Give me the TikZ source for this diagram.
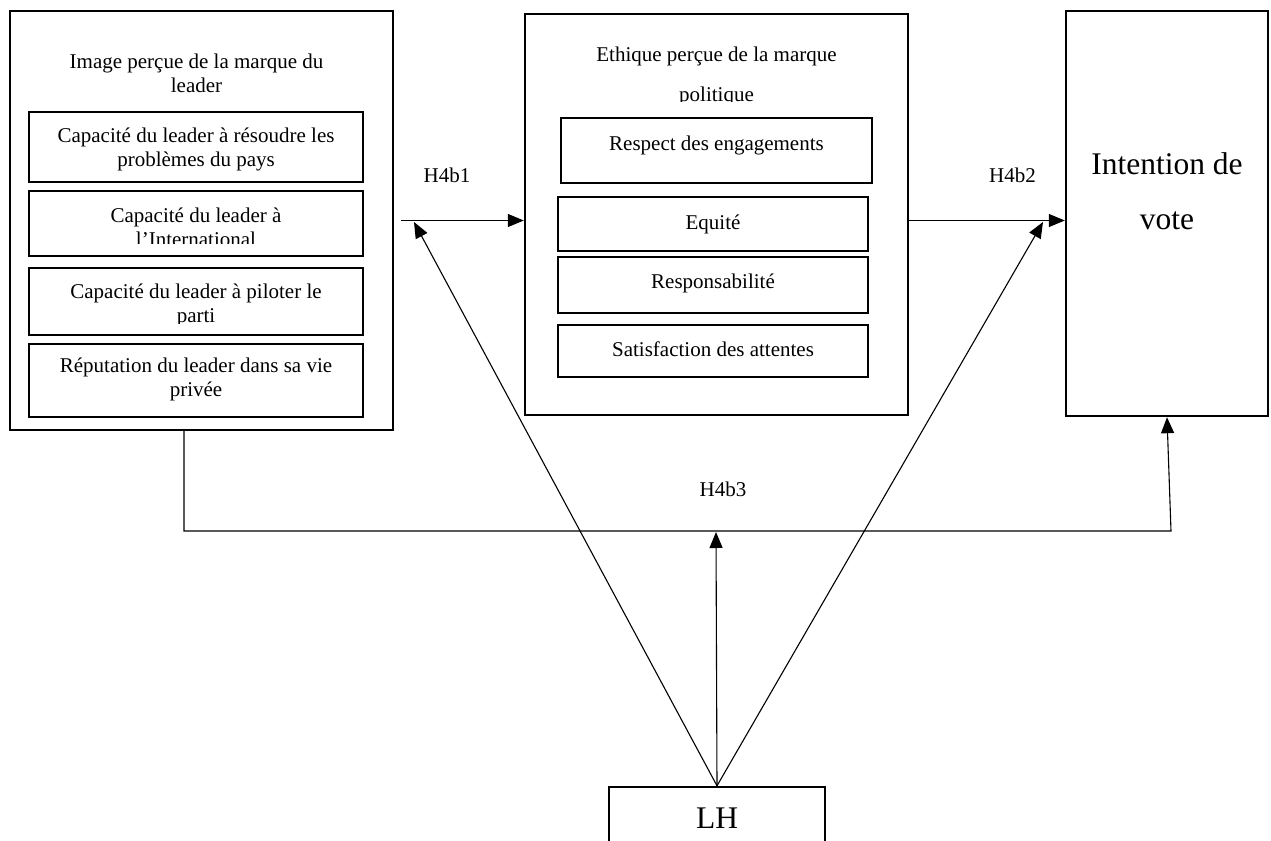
\documentclass[tikz,border=0pt]{standalone}
\usepackage{fontspec}
\setmainfont{Liberation Serif}
\usetikzlibrary{arrows.meta}
\def\textTitleA{Image perçue de la marque du\\leader}
\def\textTitleB{Ethique perçue de la marque\\politique}
\def\textItemA{Capacité du leader à résoudre les\\problèmes du pays}
\def\textItemB{Capacité du leader à\\l’International}
\def\textItemC{Capacité du leader à piloter le\\parti}
\def\textItemD{Réputation du leader dans sa vie\\privée}
\def\textItemE{Respect des engagements}
\def\textItemF{Equité}
\def\textItemG{Responsabilité}
\def\textItemH{Satisfaction des attentes}
\def\textVote{Intention de\\vote}
\tikzset{
  frame/.style={draw, line width=2.4bp, inner sep=0pt},
  boxtext/.style={inner sep=0pt, align=center, font=\fontsize{21bp}{24bp}\selectfont},
  hyptext/.style={inner sep=0pt, anchor=base, font=\fontsize{21bp}{24bp}\selectfont},
  link/.style={line width=1.1bp, -{Triangle[length=16bp,width=13bp]}}
}
\begin{document}
\begin{tikzpicture}[x=1bp,y=-1bp]
\useasboundingbox (0, 0) rectangle (1271, 841);

% main layer
\begin{scope}[shift={(0, 0)}]
% frame layer
\begin{scope}
\node[frame, minimum width=383bp, minimum height=419bp] (image) at (201.5, 220.5) {};
\node[frame, minimum width=334bp, minimum height=70bp] (imageA) at (196, 147) {};
\node[frame, minimum width=334bp, minimum height=65bp] (imageB) at (196, 223.5) {};
\node[frame, minimum width=334bp, minimum height=67bp] (imageC) at (196, 301.5) {};
\node[frame, minimum width=334bp, minimum height=73bp] (imageD) at (196, 380.5) {};
\node[frame, minimum width=383bp, minimum height=401bp] (ethique) at (716.5, 214.5) {};
\node[frame, minimum width=311bp, minimum height=65bp] (ethiqueA) at (716.5, 150.5) {};
\node[frame, minimum width=310bp, minimum height=54bp] (ethiqueB) at (713, 224) {};
\node[frame, minimum width=310bp, minimum height=56bp] (ethiqueC) at (713, 285) {};
\node[frame, minimum width=310bp, minimum height=52bp] (ethiqueD) at (713, 351) {};
\node[frame, minimum width=202bp, minimum height=405bp] (intention) at (1167, 213.5) {};
\node[frame, minimum width=216bp, minimum height=62bp] (lh) at (717, 818) {};
\end{scope}

% text layer
\begin{scope}
\node[boxtext] (imageTitle) at (196.5, 73.4) {\textTitleA};
\node[boxtext] (imageTextA) at (196, 149.2) {\textItemA};
\begin{scope}
\clip (29, 191) rectangle (363, 243.5);
\node[boxtext] (imageTextB) at (196, 226.9) {\textItemB};
\end{scope}
\begin{scope}
\clip (29, 268) rectangle (363, 323.5);
\node[boxtext] (imageTextC) at (196, 305.2) {\textItemC};
\end{scope}
\node[boxtext] (imageTextD) at (196, 379.2) {\textItemD};
\begin{scope}
\clip (525, 14) rectangle (908, 101.7);
\node[boxtext, font=\fontsize{21bp}{40bp}\selectfont] (ethiqueTitle) at (716.5, 76.9) {\textTitleB};
\end{scope}
\node[hyptext] (ethiqueTextA) at (716.5, 150) {\textItemE};
\node[hyptext] (ethiqueTextB) at (713, 229) {\textItemF};
\node[hyptext] (ethiqueTextC) at (713, 288) {\textItemG};
\node[hyptext] (ethiqueTextD) at (713, 356) {\textItemH};
\node[boxtext, font=\fontsize{31.5bp}{55bp}\selectfont] (voteText) at (1167, 191.7) {\textVote};
\node[hyptext, font=\fontsize{31.5bp}{36bp}\selectfont] (lhText) at (717, 828) {LH};
\node[hyptext] (hypA) at (447, 182) {H4b1};
\node[hyptext] (hypB) at (1012.5, 182) {H4b2};
\node[hyptext] (hypC) at (723, 496) {H4b3};
\end{scope}

% link layer
\begin{scope}
\coordinate (hypAStart) at (401, 220.5);
\coordinate (hypCLeft) at (184, 531);
\coordinate (hypCRight) at (1171, 531);
\coordinate (lhToA) at (414, 222);
\coordinate (lhToB) at (1043, 222);
\coordinate (lhToC) at (716, 532);
\draw[link] (hypAStart) -- (hypAStart -| ethique.west);
\draw[link] (ethique.east |- hypAStart) -- (intention.west |- hypAStart);
\draw[link] (hypCLeft |- image.south) -- (hypCLeft) -- (hypCRight) -- (intention.south);
\draw[link] (lh.north) -- (lhToA);
\draw[link] (lh.north) -- (lhToB);
\draw[link] (lh.north) -- (lhToC);
\end{scope}
\end{scope}
\end{tikzpicture}
\end{document}
